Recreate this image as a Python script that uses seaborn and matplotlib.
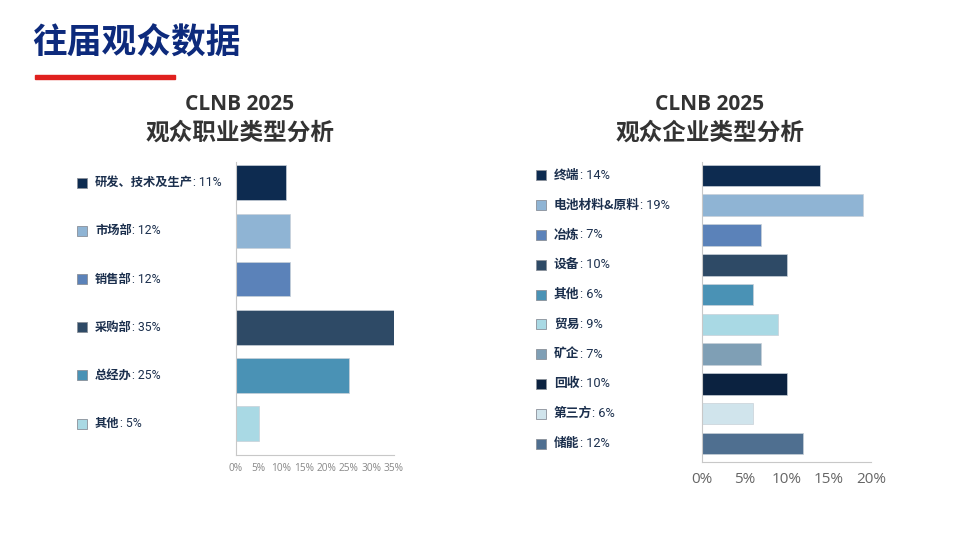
import numpy as np
import matplotlib
matplotlib.use('Agg')
import matplotlib.pyplot as plt
import matplotlib.transforms as mtransforms
import seaborn as sns

# -----------------------------
# data
# -----------------------------
job_cats = ['研发、技术及生产', '市场部', '销售部', '采购部', '总经办', '其他']
job_vals = [11, 12, 12, 35, 25, 5]
job_colors = ['#0d2b50', '#8fb4d4', '#5b82b9', '#2e4a66', '#4a92b5', '#a9d9e4']

ent_cats = ['终端', '电池材料&原料', '冶炼', '设备', '其他', '贸易', '矿企', '回收', '第三方', '储能']
ent_vals = [14, 19, 7, 10, 6, 9, 7, 10, 6, 12]
ent_colors = ['#0d2b50', '#8fb4d4', '#5b82b9', '#2e4a66', '#4a92b5', '#a9d9e4',
              '#7f9fb5', '#0b2240', '#d0e4ec', '#4f6f90']

job_ticks = [0, 5, 10, 15, 20, 25, 30, 35]
ent_ticks = [0, 5, 10, 15, 20]

sns.set_style('white')
plt.rcParams['font.family'] = ['Noto Sans CJK SC', 'DejaVu Sans']

W, H = 960, 540
fig = plt.figure(figsize=(9.6, 5.4), dpi=100)
fig.patch.set_facecolor('white')


def px_axes(x0, y0, x1, y1):
    # pixel box (top-left origin) -> figure axes
    return fig.add_axes([x0 / W, 1 - y1 / H, (x1 - x0) / W, (y1 - y0) / H])


# header
fig.text(32 / W, 1 - 43 / H, '往届观众数据', fontsize=25, fontweight='bold',
         color='#0d2a7c', va='center', ha='left')
fig.patches.append(plt.Rectangle((35 / W, 1 - 79 / H), 140 / W, 4 / H,
                                 transform=fig.transFigure, color='#e0201e'))


def draw_panel(ax, cats, vals, colors, ticks, xmax, ylims, title_x, label_x,
               sq_size, lab_size, tick_size, tick_color, tick_pad):
    sns.barplot(x=vals, y=cats, hue=cats, palette=colors, legend=False,
                orient='h', width=0.72, ax=ax, saturation=1,
                edgecolor='#c8d0d8', linewidth=0.5)
    ax.set_xlim(0, xmax)
    ax.set_ylim(*ylims)
    ax.set_xticks(ticks)
    ax.set_xticklabels([f'{t}%' for t in ticks], fontsize=tick_size,
                       color=tick_color, family=['Open Sans', 'DejaVu Sans'])
    n = len(cats)
    ax.set_yticks(np.arange(n) + 0.5)
    ax.set_yticklabels([])
    ax.tick_params(axis='y', direction='in', length=3, color='#c8c8c8', width=0.8)
    ax.tick_params(axis='x', direction='out', length=3, color='#c8c8c8', width=0.8,
                   pad=tick_pad)
    ax.set_xlabel('')
    ax.set_ylabel('')
    for s in ['top', 'right']:
        ax.spines[s].set_visible(False)
    for s in ['left', 'bottom']:
        ax.spines[s].set_color('#c8c8c8')
        ax.spines[s].set_linewidth(0.8)

    # legend-like labels to the left of the plot
    trans = mtransforms.blended_transform_factory(fig.transFigure, ax.transData)
    for i, (c, v, col) in enumerate(zip(cats, vals, colors)):
        ax.plot([label_x / W], [i], marker='s', markersize=sq_size, color=col,
                markeredgecolor='#8a9099', markeredgewidth=0.6,
                transform=trans, clip_on=False)
        t = ax.text((label_x + 13) / W, i, c, transform=trans, fontsize=lab_size,
                    fontweight='bold', color='#1b2f4d', va='center', ha='left')
        ax.annotate(f': {v}%', xy=(1, 0.5), xycoords=t, va='center', ha='left',
                    fontsize=lab_size, color='#1b2f4d',
                    family=['Roboto', 'DejaVu Sans'], annotation_clip=False)

    fig.text(title_x / W, 1 - 104 / H, 'CLNB 2025', fontsize=15, fontweight='bold',
             color='#333333', ha='center', va='center',
             family=['Open Sans', 'DejaVu Sans'])


ax1 = px_axes(236, 162, 394, 455)
draw_panel(ax1, job_cats, job_vals, job_colors, job_ticks, 35, (5.65, -0.43),
           240, 82, 7, 8.8, 7.3, '#888888', 2.5)
fig.text(240 / W, 1 - 133 / H, '观众职业类型分析', fontsize=17, fontweight='bold',
         color='#333333', ha='center', va='center')

ax2 = px_axes(702, 162, 871, 462)
draw_panel(ax2, ent_cats, ent_vals, ent_colors, ent_ticks, 20, (9.62, -0.45),
           710, 541, 6.5, 9.2, 11, '#666666', 4)
fig.text(710 / W, 1 - 133 / H, '观众企业类型分析', fontsize=17, fontweight='bold',
         color='#333333', ha='center', va='center')

plt.savefig('out.png', dpi=100)
